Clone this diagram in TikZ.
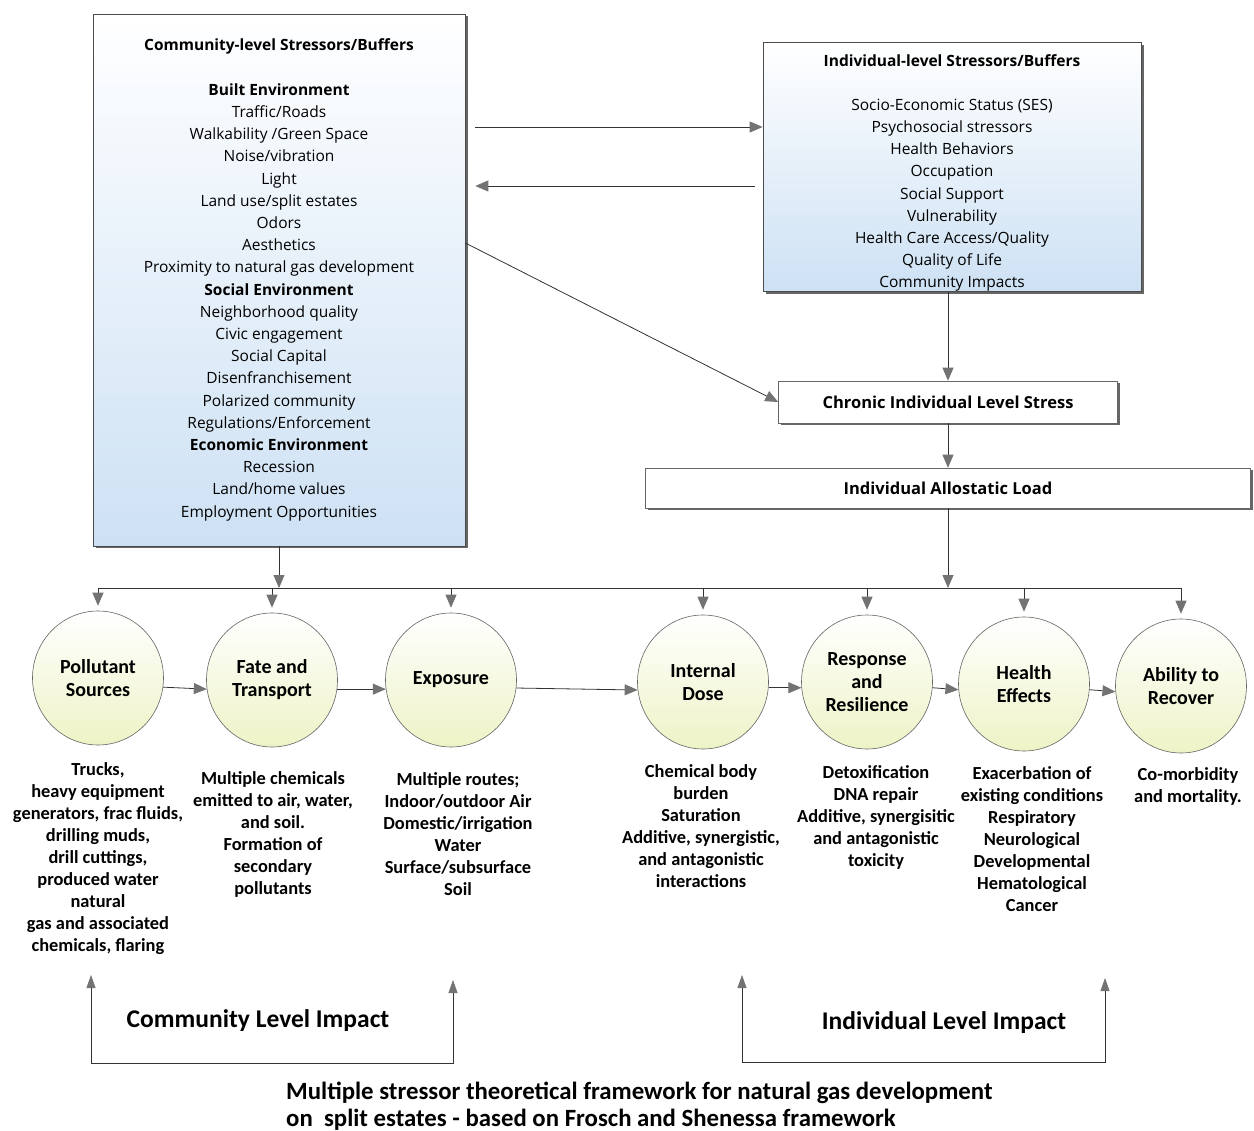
\documentclass[tikz,border=0pt]{standalone}
\usepackage{fontspec}
\setmainfont{Carlito}
\newfontfamily\boxfont{Open Sans}
\usetikzlibrary{arrows.meta,shapes.geometric,shadows}
\definecolor{boxblue}{HTML}{CDE1F4}
\definecolor{stageyellow}{HTML}{EEF3C6}

\begin{document}
\begin{tikzpicture}[x=1pt, y=1pt,
    boxtext/.style={align=center, inner sep=0pt, font=\boxfont\fontsize{15.5}{22.2}\selectfont},
    stressbox/.style={boxtext, draw=black!70, line width=0.7pt, top color=white, bottom color=boxblue,
        drop shadow={shadow xshift=2.5pt, shadow yshift=-2.5pt, fill=black!70, opacity=0.85}},
    loadbox/.style={draw=black!60, line width=0.6pt, fill=white,
        drop shadow={shadow xshift=2pt, shadow yshift=-2pt, fill=black!70, opacity=0.85},
        font=\boxfont\bfseries\fontsize{16.5}{20}\selectfont},
    stage/.style={ellipse, draw=black!60, line width=0.6pt, top color=white, bottom color=stageyellow,
        minimum width=131, minimum height=134, inner sep=0pt, align=center,
        font=\bfseries\fontsize{20}{23}\selectfont},
    desc/.style={anchor=north, align=center, inner sep=0pt, font=\bfseries\fontsize{18.4}{22}\selectfont},
    arr/.style={draw=black!80, line width=0.8pt, -{Triangle[length=13pt, width=11pt, color=black!55]}},
    impact/.style={draw=black!80, line width=0.8pt,
        {Triangle[length=13pt, width=9pt, color=black!55]}-{Triangle[length=13pt, width=9pt, color=black!55]}}]

    \fill[white] (0,0) rectangle (1254,-1131);
    \useasboundingbox (0,0) rectangle (1254,-1131);

    % community stressors
    \node[stressbox, minimum width=372, minimum height=532] (comm) at (279,-280) {%
        \textbf{Community-level Stressors/Buffers}\\[22.2pt]
        \textbf{Built Environment}\\ Traffic/Roads\\ Walkability /Green Space\\ Noise/vibration\\ Light\\
        Land use/split estates\\ Odors\\ Aesthetics\\ Proximity to natural gas development\\
        \textbf{Social Environment}\\ Neighborhood quality\\ Civic engagement\\ Social Capital\\
        Disenfranchisement\\ Polarized community\\ Regulations/Enforcement\\
        \textbf{Economic Environment}\\ Recession\\ Land/home values\\ Employment Opportunities};

    % individual stressors
    \node[stressbox, minimum width=378, minimum height=249] (ind) at (952,-167) {};
    \node[boxtext] (indlist) at ([yshift=-6pt]ind.center) {%
        \textbf{Individual-level Stressors/Buffers}\\[22pt]
        Socio-Economic Status (SES)\\ Psychosocial stressors\\ Health Behaviors\\ Occupation\\
        Social Support\\ Vulnerability\\ Health Care Access/Quality\\ Quality of Life\\ Community Impacts};

    % stress and load
    \node[loadbox, minimum width=339, minimum height=42] (chronic) at (948,-402) {Chronic Individual Level Stress};
    \node[loadbox, minimum width=605, minimum height=40] (allo) at (948,-488) {Individual Allostatic Load};

    % arrows between the boxes
    \draw[arr] ([xshift=10pt]comm.east |- 0,-127) -- (ind.west |- 0,-127);
    \draw[arr] ([xshift=-8pt]ind.west |- 0,-186) -- ([xshift=10pt]comm.east |- 0,-186);
    \draw[arr] (comm.east |- 0,-243) -- (chronic.west);
    \draw[arr] (ind.south -| chronic) -- (chronic);
    \draw[arr] (chronic) -- (allo);

    % stages
    \node[stage] (src) at (98,-678) {Pollutant\\ Sources};
    \node[stage] (fate) at (272,-680) {Fate and\\ Transport};
    \node[stage] (expo) at (451,-680) {Exposure};
    \node[stage] (dose) at (703,-682) {Internal\\ Dose};
    \node[stage] (resp) at (867,-682) {Response\\ and\\ Resilience};
    \node[stage] (health) at (1024,-684) {Health\\ Effects};
    \node[stage] (recov) at (1181,-686) {Ability to\\ Recover};

    % bus
    \coordinate (bus) at (98,-588);
    \draw[draw=black!80, line width=0.8pt] (src |- bus) -- (recov |- bus);
    \draw[arr] (comm) -- (comm |- bus);
    \draw[arr] (allo) -- (allo |- bus);
    \foreach \s in {src,fate,expo,dose,resp,health,recov}
        \draw[arr, shorten >=5pt] (\s |- bus) -- (\s);

    % chain
    \draw[arr] (src.-8) -- (fate.188);
    \draw[arr] (fate.-8) -- (expo.188);
    \draw[arr] (expo.-7) -- (dose.187);
    \draw[arr] (dose.-5) -- (resp.185);
    \draw[arr] (resp.-5) -- (health.185);
    \draw[arr] (health.-5) -- (recov.185);

    % descriptions
    \node[desc] (srcd) at (98,-762) {Trucks,\\ heavy equipment\\ generators, frac fluids,\\ drilling muds,\\
        drill cuttings,\\ produced water\\ natural\\ gas and associated\\ chemicals, flaring};
    \node[desc] (fated) at (273,-771) {Multiple chemicals\\ emitted to air, water,\\ and soil.\\ Formation of\\
        secondary\\ pollutants};
    \node[desc] (expod) at (458,-772) {Multiple routes;\\ Indoor/outdoor Air\\ Domestic/irrigation\\ Water\\
        Surface/subsurface\\ Soil};
    \node[desc] (dosed) at (701,-764) {Chemical body\\ burden\\ Saturation\\ Additive, synergistic,\\
        and antagonistic\\ interactions};
    \node[desc] (respd) at (876,-765) {Detoxification\\ DNA repair\\ Additive, synergisitic\\ and antagonistic\\ toxicity};
    \node[desc] (healthd) at (1032,-766) {Exacerbation of\\ existing conditions\\ Respiratory\\ Neurological\\
        Developmental\\ Hematological\\ Cancer};
    \node[desc] (recovd) at (1188,-767) {Co-morbidity\\ and mortality.};

    % impact brackets
    \coordinate (cl1) at (91,-975);
    \coordinate (cl2) at (453,-980);
    \coordinate (il1) at (742,-975);
    \coordinate (il2) at (1105,-978);
    \draw[impact] (cl1) -- (cl1 |- 0,-1063) -| (cl2);
    \draw[impact] (il1) -- (il1 |- 0,-1062) -| (il2);
    \node[font=\bfseries\fontsize{25.5}{28}\selectfont] (commimp) at (258,-1021) {Community Level Impact};
    \node[font=\bfseries\fontsize{25.5}{28}\selectfont] (indimp) at (944,-1023) {Individual Level Impact};

    % caption
    \node[anchor=north west, align=left, inner sep=0pt, font=\bfseries\fontsize{24.8}{27}\selectfont] (cap) at (286,-1082)
        {Multiple stressor theoretical framework for natural gas development\\
         on\ \ split estates - based on Frosch and Shenessa framework};
\end{tikzpicture}
\end{document}
